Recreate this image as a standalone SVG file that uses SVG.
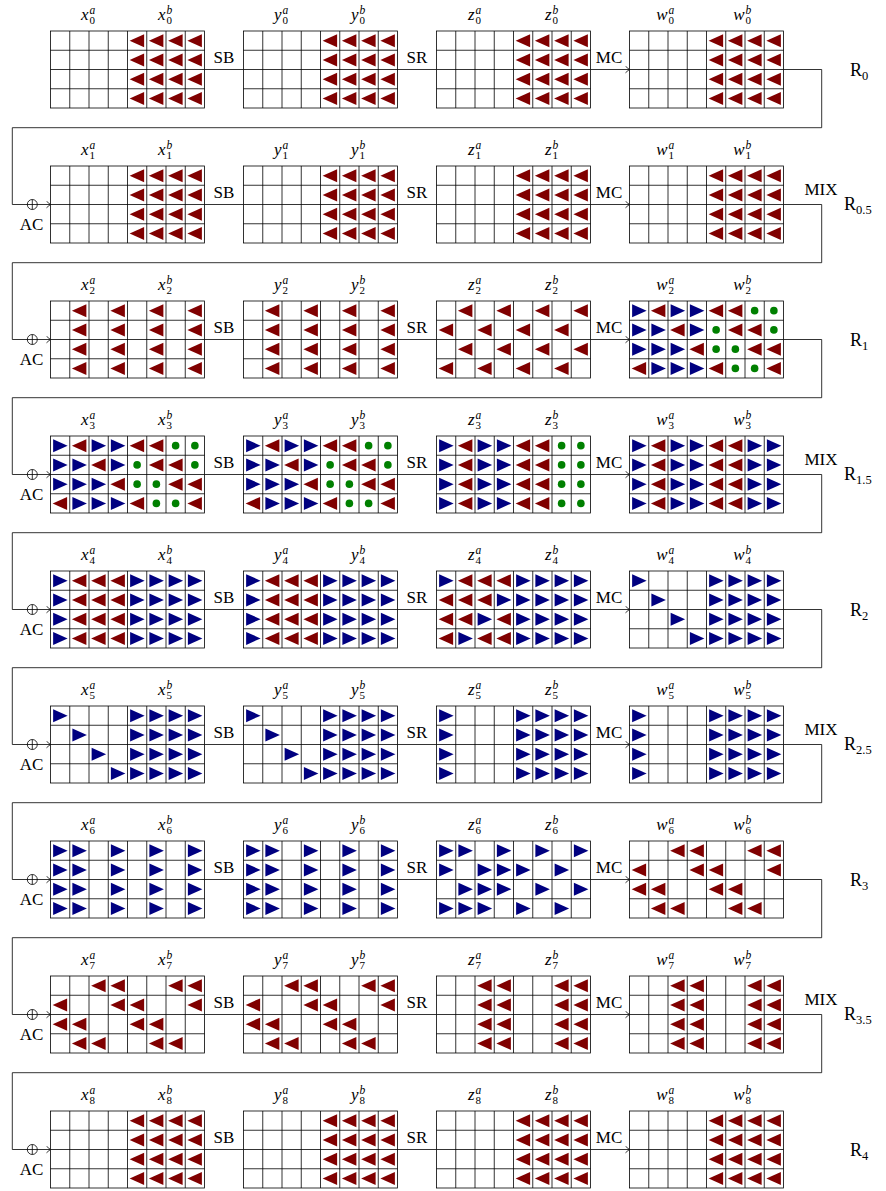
<svg xmlns="http://www.w3.org/2000/svg" width="886" height="1191" viewBox="0 0 886 1191">
<style>
.m{font:italic 17px "Liberation Serif",serif}
.p{font:italic 11.5px "Liberation Serif",serif}
.d{font:normal 11px "Liberation Serif",serif}
.o{font:17px "Liberation Serif",serif;text-anchor:middle}
.r{font:18px "Liberation Serif",serif}
.w{fill:none;stroke:#000;stroke-width:0.8}
</style>
<defs>
<marker id="ar" viewBox="-5 -4 6 8" markerWidth="6" markerHeight="8" refX="0" refY="0" orient="auto" markerUnits="userSpaceOnUse"><path d="M-4,-3.3 Q-1.3,-0.8 0,0 Q-1.3,0.8 -4,3.3" fill="none" stroke="#000" stroke-width="0.8"/></marker>
<g id="grid"><rect width="154" height="77" fill="#fff" stroke="#000" stroke-width="0.8"/><path d="M19.25 0V77M38.5 0V77M57.75 0V77M77 0V77M96.25 0V77M115.5 0V77M134.75 0V77M0 19.25H154M0 38.5H154M0 57.75H154" stroke="#000" stroke-width="0.8"/></g>
<path id="R" d="M-7.5 0L7 -6.5L7 6.5Z" fill="#800000"/>
<path id="B" d="M7.5 0L-7 -6.5L-7 6.5Z" fill="#000080"/>
<circle id="G" r="3.8" fill="#008000"/>
<g id="cR"><use href="#R" y="9.625"/><use href="#R" y="28.875"/><use href="#R" y="48.125"/><use href="#R" y="67.375"/></g>
<g id="cB"><use href="#B" y="9.625"/><use href="#B" y="28.875"/><use href="#B" y="48.125"/><use href="#B" y="67.375"/></g>
<g id="cG"><use href="#G" y="9.625"/><use href="#G" y="28.875"/><use href="#G" y="48.125"/><use href="#G" y="67.375"/></g>
<g id="hR"><use href="#cR" x="9.625"/><use href="#cR" x="28.875"/><use href="#cR" x="48.125"/><use href="#cR" x="67.375"/></g>
<g id="hB"><use href="#cB" x="9.625"/><use href="#cB" x="28.875"/><use href="#cB" x="48.125"/><use href="#cB" x="67.375"/></g>
<g id="p2">
<use href="#B" x="9.625" y="9.625"/><use href="#R" x="28.875" y="9.625"/><use href="#B" x="48.125" y="9.625"/><use href="#B" x="67.375" y="9.625"/><use href="#R" x="86.625" y="9.625"/><use href="#R" x="105.875" y="9.625"/><use href="#G" x="125.125" y="9.625"/><use href="#G" x="144.375" y="9.625"/>
<use href="#B" x="9.625" y="28.875"/><use href="#B" x="28.875" y="28.875"/><use href="#R" x="48.125" y="28.875"/><use href="#B" x="67.375" y="28.875"/><use href="#G" x="86.625" y="28.875"/><use href="#R" x="105.875" y="28.875"/><use href="#R" x="125.125" y="28.875"/><use href="#G" x="144.375" y="28.875"/>
<use href="#B" x="9.625" y="48.125"/><use href="#B" x="28.875" y="48.125"/><use href="#B" x="48.125" y="48.125"/><use href="#R" x="67.375" y="48.125"/><use href="#G" x="86.625" y="48.125"/><use href="#G" x="105.875" y="48.125"/><use href="#R" x="125.125" y="48.125"/><use href="#R" x="144.375" y="48.125"/>
<use href="#R" x="9.625" y="67.375"/><use href="#B" x="28.875" y="67.375"/><use href="#B" x="48.125" y="67.375"/><use href="#B" x="67.375" y="67.375"/><use href="#R" x="86.625" y="67.375"/><use href="#G" x="105.875" y="67.375"/><use href="#G" x="125.125" y="67.375"/><use href="#R" x="144.375" y="67.375"/>
</g>
<g id="p4"><use href="#B" x="9.625" y="9.625"/><use href="#B" x="28.875" y="28.875"/><use href="#B" x="48.125" y="48.125"/><use href="#B" x="67.375" y="67.375"/><use href="#hB" x="77"/></g>
<g id="p6">
<use href="#R" x="48.125" y="9.625"/><use href="#R" x="67.375" y="9.625"/><use href="#R" x="125.125" y="9.625"/><use href="#R" x="144.375" y="9.625"/>
<use href="#R" x="9.625" y="28.875"/><use href="#R" x="67.375" y="28.875"/><use href="#R" x="86.625" y="28.875"/><use href="#R" x="144.375" y="28.875"/>
<use href="#R" x="9.625" y="48.125"/><use href="#R" x="28.875" y="48.125"/><use href="#R" x="86.625" y="48.125"/><use href="#R" x="105.875" y="48.125"/>
<use href="#R" x="28.875" y="67.375"/><use href="#R" x="48.125" y="67.375"/><use href="#R" x="105.875" y="67.375"/><use href="#R" x="125.125" y="67.375"/>
</g>
<g id="p2a"><use href="#cR" x="28.875"/><use href="#cR" x="67.375"/><use href="#cR" x="105.875"/><use href="#cR" x="144.375"/></g>
<g id="p7"><use href="#cR" x="48.125"/><use href="#cR" x="67.375"/><use href="#cR" x="125.125"/><use href="#cR" x="144.375"/></g>
</defs>

<g id="connectors" class="w">
<path marker-end="url(#ar)" d="M204.5 69.5H243.5M397.5 69.5H436.5M590.5 69.5H629.5"/>
<path marker-end="url(#ar)" d="M204.5 204.5H243.5M397.5 204.5H436.5M590.5 204.5H629.5"/>
<path marker-end="url(#ar)" d="M204.5 339.5H243.5M397.5 339.5H436.5M590.5 339.5H629.5"/>
<path marker-end="url(#ar)" d="M204.5 474.5H243.5M397.5 474.5H436.5M590.5 474.5H629.5"/>
<path marker-end="url(#ar)" d="M204.5 609.5H243.5M397.5 609.5H436.5M590.5 609.5H629.5"/>
<path marker-end="url(#ar)" d="M204.5 744.5H243.5M397.5 744.5H436.5M590.5 744.5H629.5"/>
<path marker-end="url(#ar)" d="M204.5 879.5H243.5M397.5 879.5H436.5M590.5 879.5H629.5"/>
<path marker-end="url(#ar)" d="M204.5 1014.5H243.5M397.5 1014.5H436.5M590.5 1014.5H629.5"/>
<path marker-end="url(#ar)" d="M204.5 1149.5H243.5M397.5 1149.5H436.5M590.5 1149.5H629.5"/>
<path marker-end="url(#ar)" d="M783.5 69.5H821.7V127.7H12.3V204.5H50.5"/>
<path marker-end="url(#ar)" d="M783.5 204.5H821.7V262.7H12.3V339.5H50.5"/>
<path marker-end="url(#ar)" d="M783.5 339.5H821.7V397.7H12.3V474.5H50.5"/>
<path marker-end="url(#ar)" d="M783.5 474.5H821.7V532.7H12.3V609.5H50.5"/>
<path marker-end="url(#ar)" d="M783.5 609.5H821.7V667.7H12.3V744.5H50.5"/>
<path marker-end="url(#ar)" d="M783.5 744.5H821.7V802.7H12.3V879.5H50.5"/>
<path marker-end="url(#ar)" d="M783.5 879.5H821.7V937.7H12.3V1014.5H50.5"/>
<path marker-end="url(#ar)" d="M783.5 1014.5H821.7V1072.7H12.3V1149.5H50.5"/>
<g id="oplus">
<circle cx="32.3" cy="204.5" r="5"/><path d="M32.3 199.5V209.5"/>
<circle cx="32.3" cy="339.5" r="5"/><path d="M32.3 334.5V344.5"/>
<circle cx="32.3" cy="474.5" r="5"/><path d="M32.3 469.5V479.5"/>
<circle cx="32.3" cy="609.5" r="5"/><path d="M32.3 604.5V614.5"/>
<circle cx="32.3" cy="744.5" r="5"/><path d="M32.3 739.5V749.5"/>
<circle cx="32.3" cy="879.5" r="5"/><path d="M32.3 874.5V884.5"/>
<circle cx="32.3" cy="1014.5" r="5"/><path d="M32.3 1009.5V1019.5"/>
<circle cx="32.3" cy="1149.5" r="5"/><path d="M32.3 1144.5V1154.5"/>
</g>
</g>

<g id="op-labels" class="o">
<text x="224" y="63">SB</text><text x="417" y="63">SR</text><text x="609" y="63">MC</text>
<text x="224" y="198">SB</text><text x="417" y="198">SR</text><text x="609" y="198">MC</text>
<text x="224" y="333">SB</text><text x="417" y="333">SR</text><text x="609" y="333">MC</text>
<text x="224" y="468">SB</text><text x="417" y="468">SR</text><text x="609" y="468">MC</text>
<text x="224" y="603">SB</text><text x="417" y="603">SR</text><text x="609" y="603">MC</text>
<text x="224" y="738">SB</text><text x="417" y="738">SR</text><text x="609" y="738">MC</text>
<text x="224" y="873">SB</text><text x="417" y="873">SR</text><text x="609" y="873">MC</text>
<text x="224" y="1008">SB</text><text x="417" y="1008">SR</text><text x="609" y="1008">MC</text>
<text x="224" y="1143">SB</text><text x="417" y="1143">SR</text><text x="609" y="1143">MC</text>
<text x="31.5" y="230">AC</text><text x="31.5" y="365">AC</text><text x="31.5" y="500">AC</text><text x="31.5" y="635">AC</text>
<text x="31.5" y="770">AC</text><text x="31.5" y="905">AC</text><text x="31.5" y="1040">AC</text><text x="31.5" y="1175">AC</text>
<text x="821" y="195">MIX</text><text x="821" y="465">MIX</text><text x="821" y="735">MIX</text><text x="821" y="1005">MIX</text>
</g>

<g id="round-labels" class="r">
<text x="850" y="76">R<tspan font-size="12.5" dy="3.5">0</tspan></text>
<text x="844" y="210">R<tspan font-size="12.5" dy="3.5">0.5</tspan></text>
<text x="850" y="346">R<tspan font-size="12.5" dy="3.5">1</tspan></text>
<text x="844" y="480">R<tspan font-size="12.5" dy="3.5">1.5</tspan></text>
<text x="850" y="616">R<tspan font-size="12.5" dy="3.5">2</tspan></text>
<text x="844" y="750">R<tspan font-size="12.5" dy="3.5">2.5</tspan></text>
<text x="850" y="886">R<tspan font-size="12.5" dy="3.5">3</tspan></text>
<text x="844" y="1020">R<tspan font-size="12.5" dy="3.5">3.5</tspan></text>
<text x="850" y="1156">R<tspan font-size="12.5" dy="3.5">4</tspan></text>
</g>

<!-- Row 0 -->
<g id="x0" transform="translate(50.5,31)"><use href="#grid"/><use href="#hR" x="77"/><text class="m" x="30.5" y="-11">x<tspan class="p" x="39" dy="-6">a</tspan><tspan class="d" x="39" dy="9.5">0</tspan></text><text class="m" x="107.5" y="-11">x<tspan class="p" x="116" dy="-6">b</tspan><tspan class="d" x="116" dy="9.5">0</tspan></text></g>
<g id="y0" transform="translate(243.5,31)"><use href="#grid"/><use href="#hR" x="77"/><text class="m" x="30.5" y="-11">y<tspan class="p" x="39" dy="-6">a</tspan><tspan class="d" x="39" dy="9.5">0</tspan></text><text class="m" x="107.5" y="-11">y<tspan class="p" x="116" dy="-6">b</tspan><tspan class="d" x="116" dy="9.5">0</tspan></text></g>
<g id="z0" transform="translate(436.5,31)"><use href="#grid"/><use href="#hR" x="77"/><text class="m" x="31.4" y="-11">z<tspan class="p" x="39" dy="-6">a</tspan><tspan class="d" x="39" dy="9.5">0</tspan></text><text class="m" x="108.4" y="-11">z<tspan class="p" x="116" dy="-6">b</tspan><tspan class="d" x="116" dy="9.5">0</tspan></text></g>
<g id="w0" transform="translate(629.5,31)"><use href="#grid"/><use href="#hR" x="77"/><text class="m" x="26.7" y="-11">w<tspan class="p" x="39" dy="-6">a</tspan><tspan class="d" x="39" dy="9.5">0</tspan></text><text class="m" x="103.7" y="-11">w<tspan class="p" x="116" dy="-6">b</tspan><tspan class="d" x="116" dy="9.5">0</tspan></text></g>

<!-- Row 1 -->
<g id="x1" transform="translate(50.5,166)"><use href="#grid"/><use href="#hR" x="77"/><text class="m" x="30.5" y="-11">x<tspan class="p" x="39" dy="-6">a</tspan><tspan class="d" x="39" dy="9.5">1</tspan></text><text class="m" x="107.5" y="-11">x<tspan class="p" x="116" dy="-6">b</tspan><tspan class="d" x="116" dy="9.5">1</tspan></text></g>
<g id="y1" transform="translate(243.5,166)"><use href="#grid"/><use href="#hR" x="77"/><text class="m" x="30.5" y="-11">y<tspan class="p" x="39" dy="-6">a</tspan><tspan class="d" x="39" dy="9.5">1</tspan></text><text class="m" x="107.5" y="-11">y<tspan class="p" x="116" dy="-6">b</tspan><tspan class="d" x="116" dy="9.5">1</tspan></text></g>
<g id="z1" transform="translate(436.5,166)"><use href="#grid"/><use href="#hR" x="77"/><text class="m" x="31.4" y="-11">z<tspan class="p" x="39" dy="-6">a</tspan><tspan class="d" x="39" dy="9.5">1</tspan></text><text class="m" x="108.4" y="-11">z<tspan class="p" x="116" dy="-6">b</tspan><tspan class="d" x="116" dy="9.5">1</tspan></text></g>
<g id="w1" transform="translate(629.5,166)"><use href="#grid"/><use href="#hR" x="77"/><text class="m" x="26.7" y="-11">w<tspan class="p" x="39" dy="-6">a</tspan><tspan class="d" x="39" dy="9.5">1</tspan></text><text class="m" x="103.7" y="-11">w<tspan class="p" x="116" dy="-6">b</tspan><tspan class="d" x="116" dy="9.5">1</tspan></text></g>

<!-- Row 2 -->
<g id="x2" transform="translate(50.5,301)"><use href="#grid"/><use href="#p2a"/><text class="m" x="30.5" y="-11">x<tspan class="p" x="39" dy="-6">a</tspan><tspan class="d" x="39" dy="9.5">2</tspan></text><text class="m" x="107.5" y="-11">x<tspan class="p" x="116" dy="-6">b</tspan><tspan class="d" x="116" dy="9.5">2</tspan></text></g>
<g id="y2" transform="translate(243.5,301)"><use href="#grid"/><use href="#p2a"/><text class="m" x="30.5" y="-11">y<tspan class="p" x="39" dy="-6">a</tspan><tspan class="d" x="39" dy="9.5">2</tspan></text><text class="m" x="107.5" y="-11">y<tspan class="p" x="116" dy="-6">b</tspan><tspan class="d" x="116" dy="9.5">2</tspan></text></g>
<g id="z2" transform="translate(436.5,301)"><use href="#grid"/>
<use href="#R" x="28.875" y="9.625"/><use href="#R" x="67.375" y="9.625"/><use href="#R" x="105.875" y="9.625"/><use href="#R" x="144.375" y="9.625"/>
<use href="#R" x="9.625" y="28.875"/><use href="#R" x="48.125" y="28.875"/><use href="#R" x="86.625" y="28.875"/><use href="#R" x="125.125" y="28.875"/>
<use href="#R" x="28.875" y="48.125"/><use href="#R" x="67.375" y="48.125"/><use href="#R" x="105.875" y="48.125"/><use href="#R" x="144.375" y="48.125"/>
<use href="#R" x="9.625" y="67.375"/><use href="#R" x="48.125" y="67.375"/><use href="#R" x="86.625" y="67.375"/><use href="#R" x="125.125" y="67.375"/>
<text class="m" x="31.4" y="-11">z<tspan class="p" x="39" dy="-6">a</tspan><tspan class="d" x="39" dy="9.5">2</tspan></text><text class="m" x="108.4" y="-11">z<tspan class="p" x="116" dy="-6">b</tspan><tspan class="d" x="116" dy="9.5">2</tspan></text></g>
<g id="w2" transform="translate(629.5,301)"><use href="#grid"/><use href="#p2"/><text class="m" x="26.7" y="-11">w<tspan class="p" x="39" dy="-6">a</tspan><tspan class="d" x="39" dy="9.5">2</tspan></text><text class="m" x="103.7" y="-11">w<tspan class="p" x="116" dy="-6">b</tspan><tspan class="d" x="116" dy="9.5">2</tspan></text></g>

<!-- Row 3 -->
<g id="x3" transform="translate(50.5,436)"><use href="#grid"/><use href="#p2"/><text class="m" x="30.5" y="-11">x<tspan class="p" x="39" dy="-6">a</tspan><tspan class="d" x="39" dy="9.5">3</tspan></text><text class="m" x="107.5" y="-11">x<tspan class="p" x="116" dy="-6">b</tspan><tspan class="d" x="116" dy="9.5">3</tspan></text></g>
<g id="y3" transform="translate(243.5,436)"><use href="#grid"/><use href="#p2"/><text class="m" x="30.5" y="-11">y<tspan class="p" x="39" dy="-6">a</tspan><tspan class="d" x="39" dy="9.5">3</tspan></text><text class="m" x="107.5" y="-11">y<tspan class="p" x="116" dy="-6">b</tspan><tspan class="d" x="116" dy="9.5">3</tspan></text></g>
<g id="z3" transform="translate(436.5,436)"><use href="#grid"/><use href="#cB" x="9.625"/><use href="#cR" x="28.875"/><use href="#cB" x="48.125"/><use href="#cB" x="67.375"/><use href="#cR" x="86.625"/><use href="#cR" x="105.875"/><use href="#cG" x="125.125"/><use href="#cG" x="144.375"/><text class="m" x="31.4" y="-11">z<tspan class="p" x="39" dy="-6">a</tspan><tspan class="d" x="39" dy="9.5">3</tspan></text><text class="m" x="108.4" y="-11">z<tspan class="p" x="116" dy="-6">b</tspan><tspan class="d" x="116" dy="9.5">3</tspan></text></g>
<g id="w3" transform="translate(629.5,436)"><use href="#grid"/><use href="#cB" x="9.625"/><use href="#cR" x="28.875"/><use href="#cB" x="48.125"/><use href="#cB" x="67.375"/><use href="#cR" x="86.625"/><use href="#cR" x="105.875"/><use href="#cB" x="125.125"/><use href="#cB" x="144.375"/><text class="m" x="26.7" y="-11">w<tspan class="p" x="39" dy="-6">a</tspan><tspan class="d" x="39" dy="9.5">3</tspan></text><text class="m" x="103.7" y="-11">w<tspan class="p" x="116" dy="-6">b</tspan><tspan class="d" x="116" dy="9.5">3</tspan></text></g>

<!-- Row 4 -->
<g id="x4" transform="translate(50.5,571)"><use href="#grid"/><use href="#cB" x="9.625"/><use href="#cR" x="28.875"/><use href="#cR" x="48.125"/><use href="#cR" x="67.375"/><use href="#hB" x="77"/><text class="m" x="30.5" y="-11">x<tspan class="p" x="39" dy="-6">a</tspan><tspan class="d" x="39" dy="9.5">4</tspan></text><text class="m" x="107.5" y="-11">x<tspan class="p" x="116" dy="-6">b</tspan><tspan class="d" x="116" dy="9.5">4</tspan></text></g>
<g id="y4" transform="translate(243.5,571)"><use href="#grid"/><use href="#cB" x="9.625"/><use href="#cR" x="28.875"/><use href="#cR" x="48.125"/><use href="#cR" x="67.375"/><use href="#hB" x="77"/><text class="m" x="30.5" y="-11">y<tspan class="p" x="39" dy="-6">a</tspan><tspan class="d" x="39" dy="9.5">4</tspan></text><text class="m" x="107.5" y="-11">y<tspan class="p" x="116" dy="-6">b</tspan><tspan class="d" x="116" dy="9.5">4</tspan></text></g>
<g id="z4" transform="translate(436.5,571)"><use href="#grid"/><use href="#hB" x="77"/>
<use href="#B" x="9.625" y="9.625"/><use href="#R" x="28.875" y="9.625"/><use href="#R" x="48.125" y="9.625"/><use href="#R" x="67.375" y="9.625"/>
<use href="#R" x="9.625" y="28.875"/><use href="#R" x="28.875" y="28.875"/><use href="#R" x="48.125" y="28.875"/><use href="#B" x="67.375" y="28.875"/>
<use href="#R" x="9.625" y="48.125"/><use href="#R" x="28.875" y="48.125"/><use href="#B" x="48.125" y="48.125"/><use href="#R" x="67.375" y="48.125"/>
<use href="#R" x="9.625" y="67.375"/><use href="#B" x="28.875" y="67.375"/><use href="#R" x="48.125" y="67.375"/><use href="#R" x="67.375" y="67.375"/>
<text class="m" x="31.4" y="-11">z<tspan class="p" x="39" dy="-6">a</tspan><tspan class="d" x="39" dy="9.5">4</tspan></text><text class="m" x="108.4" y="-11">z<tspan class="p" x="116" dy="-6">b</tspan><tspan class="d" x="116" dy="9.5">4</tspan></text></g>
<g id="w4" transform="translate(629.5,571)"><use href="#grid"/><use href="#p4"/><text class="m" x="26.7" y="-11">w<tspan class="p" x="39" dy="-6">a</tspan><tspan class="d" x="39" dy="9.5">4</tspan></text><text class="m" x="103.7" y="-11">w<tspan class="p" x="116" dy="-6">b</tspan><tspan class="d" x="116" dy="9.5">4</tspan></text></g>

<!-- Row 5 -->
<g id="x5" transform="translate(50.5,706)"><use href="#grid"/><use href="#p4"/><text class="m" x="30.5" y="-11">x<tspan class="p" x="39" dy="-6">a</tspan><tspan class="d" x="39" dy="9.5">5</tspan></text><text class="m" x="107.5" y="-11">x<tspan class="p" x="116" dy="-6">b</tspan><tspan class="d" x="116" dy="9.5">5</tspan></text></g>
<g id="y5" transform="translate(243.5,706)"><use href="#grid"/><use href="#p4"/><text class="m" x="30.5" y="-11">y<tspan class="p" x="39" dy="-6">a</tspan><tspan class="d" x="39" dy="9.5">5</tspan></text><text class="m" x="107.5" y="-11">y<tspan class="p" x="116" dy="-6">b</tspan><tspan class="d" x="116" dy="9.5">5</tspan></text></g>
<g id="z5" transform="translate(436.5,706)"><use href="#grid"/><use href="#cB" x="9.625"/><use href="#hB" x="77"/><text class="m" x="31.4" y="-11">z<tspan class="p" x="39" dy="-6">a</tspan><tspan class="d" x="39" dy="9.5">5</tspan></text><text class="m" x="108.4" y="-11">z<tspan class="p" x="116" dy="-6">b</tspan><tspan class="d" x="116" dy="9.5">5</tspan></text></g>
<g id="w5" transform="translate(629.5,706)"><use href="#grid"/><use href="#cB" x="9.625"/><use href="#hB" x="77"/><text class="m" x="26.7" y="-11">w<tspan class="p" x="39" dy="-6">a</tspan><tspan class="d" x="39" dy="9.5">5</tspan></text><text class="m" x="103.7" y="-11">w<tspan class="p" x="116" dy="-6">b</tspan><tspan class="d" x="116" dy="9.5">5</tspan></text></g>

<!-- Row 6 -->
<g id="x6" transform="translate(50.5,841)"><use href="#grid"/><use href="#cB" x="9.625"/><use href="#cB" x="28.875"/><use href="#cB" x="67.375"/><use href="#cB" x="105.875"/><use href="#cB" x="144.375"/><text class="m" x="30.5" y="-11">x<tspan class="p" x="39" dy="-6">a</tspan><tspan class="d" x="39" dy="9.5">6</tspan></text><text class="m" x="107.5" y="-11">x<tspan class="p" x="116" dy="-6">b</tspan><tspan class="d" x="116" dy="9.5">6</tspan></text></g>
<g id="y6" transform="translate(243.5,841)"><use href="#grid"/><use href="#cB" x="9.625"/><use href="#cB" x="28.875"/><use href="#cB" x="67.375"/><use href="#cB" x="105.875"/><use href="#cB" x="144.375"/><text class="m" x="30.5" y="-11">y<tspan class="p" x="39" dy="-6">a</tspan><tspan class="d" x="39" dy="9.5">6</tspan></text><text class="m" x="107.5" y="-11">y<tspan class="p" x="116" dy="-6">b</tspan><tspan class="d" x="116" dy="9.5">6</tspan></text></g>
<g id="z6" transform="translate(436.5,841)"><use href="#grid"/>
<use href="#B" x="9.625" y="9.625"/><use href="#B" x="28.875" y="9.625"/><use href="#B" x="67.375" y="9.625"/><use href="#B" x="105.875" y="9.625"/><use href="#B" x="144.375" y="9.625"/>
<use href="#B" x="9.625" y="28.875"/><use href="#B" x="48.125" y="28.875"/><use href="#B" x="67.375" y="28.875"/><use href="#B" x="86.625" y="28.875"/><use href="#B" x="125.125" y="28.875"/>
<use href="#B" x="28.875" y="48.125"/><use href="#B" x="48.125" y="48.125"/><use href="#B" x="67.375" y="48.125"/><use href="#B" x="105.875" y="48.125"/><use href="#B" x="144.375" y="48.125"/>
<use href="#B" x="9.625" y="67.375"/><use href="#B" x="28.875" y="67.375"/><use href="#B" x="48.125" y="67.375"/><use href="#B" x="86.625" y="67.375"/><use href="#B" x="125.125" y="67.375"/>
<text class="m" x="31.4" y="-11">z<tspan class="p" x="39" dy="-6">a</tspan><tspan class="d" x="39" dy="9.5">6</tspan></text><text class="m" x="108.4" y="-11">z<tspan class="p" x="116" dy="-6">b</tspan><tspan class="d" x="116" dy="9.5">6</tspan></text></g>
<g id="w6" transform="translate(629.5,841)"><use href="#grid"/><use href="#p6"/><text class="m" x="26.7" y="-11">w<tspan class="p" x="39" dy="-6">a</tspan><tspan class="d" x="39" dy="9.5">6</tspan></text><text class="m" x="103.7" y="-11">w<tspan class="p" x="116" dy="-6">b</tspan><tspan class="d" x="116" dy="9.5">6</tspan></text></g>

<!-- Row 7 -->
<g id="x7" transform="translate(50.5,976)"><use href="#grid"/><use href="#p6"/><text class="m" x="30.5" y="-11">x<tspan class="p" x="39" dy="-6">a</tspan><tspan class="d" x="39" dy="9.5">7</tspan></text><text class="m" x="107.5" y="-11">x<tspan class="p" x="116" dy="-6">b</tspan><tspan class="d" x="116" dy="9.5">7</tspan></text></g>
<g id="y7" transform="translate(243.5,976)"><use href="#grid"/><use href="#p6"/><text class="m" x="30.5" y="-11">y<tspan class="p" x="39" dy="-6">a</tspan><tspan class="d" x="39" dy="9.5">7</tspan></text><text class="m" x="107.5" y="-11">y<tspan class="p" x="116" dy="-6">b</tspan><tspan class="d" x="116" dy="9.5">7</tspan></text></g>
<g id="z7" transform="translate(436.5,976)"><use href="#grid"/><use href="#p7"/><text class="m" x="31.4" y="-11">z<tspan class="p" x="39" dy="-6">a</tspan><tspan class="d" x="39" dy="9.5">7</tspan></text><text class="m" x="108.4" y="-11">z<tspan class="p" x="116" dy="-6">b</tspan><tspan class="d" x="116" dy="9.5">7</tspan></text></g>
<g id="w7" transform="translate(629.5,976)"><use href="#grid"/><use href="#p7"/><text class="m" x="26.7" y="-11">w<tspan class="p" x="39" dy="-6">a</tspan><tspan class="d" x="39" dy="9.5">7</tspan></text><text class="m" x="103.7" y="-11">w<tspan class="p" x="116" dy="-6">b</tspan><tspan class="d" x="116" dy="9.5">7</tspan></text></g>

<!-- Row 8 -->
<g id="x8" transform="translate(50.5,1111)"><use href="#grid"/><use href="#hR" x="77"/><text class="m" x="30.5" y="-11">x<tspan class="p" x="39" dy="-6">a</tspan><tspan class="d" x="39" dy="9.5">8</tspan></text><text class="m" x="107.5" y="-11">x<tspan class="p" x="116" dy="-6">b</tspan><tspan class="d" x="116" dy="9.5">8</tspan></text></g>
<g id="y8" transform="translate(243.5,1111)"><use href="#grid"/><use href="#hR" x="77"/><text class="m" x="30.5" y="-11">y<tspan class="p" x="39" dy="-6">a</tspan><tspan class="d" x="39" dy="9.5">8</tspan></text><text class="m" x="107.5" y="-11">y<tspan class="p" x="116" dy="-6">b</tspan><tspan class="d" x="116" dy="9.5">8</tspan></text></g>
<g id="z8" transform="translate(436.5,1111)"><use href="#grid"/><use href="#hR" x="77"/><text class="m" x="31.4" y="-11">z<tspan class="p" x="39" dy="-6">a</tspan><tspan class="d" x="39" dy="9.5">8</tspan></text><text class="m" x="108.4" y="-11">z<tspan class="p" x="116" dy="-6">b</tspan><tspan class="d" x="116" dy="9.5">8</tspan></text></g>
<g id="w8" transform="translate(629.5,1111)"><use href="#grid"/><use href="#hR" x="77"/><text class="m" x="26.7" y="-11">w<tspan class="p" x="39" dy="-6">a</tspan><tspan class="d" x="39" dy="9.5">8</tspan></text><text class="m" x="103.7" y="-11">w<tspan class="p" x="116" dy="-6">b</tspan><tspan class="d" x="116" dy="9.5">8</tspan></text></g>
</svg>
